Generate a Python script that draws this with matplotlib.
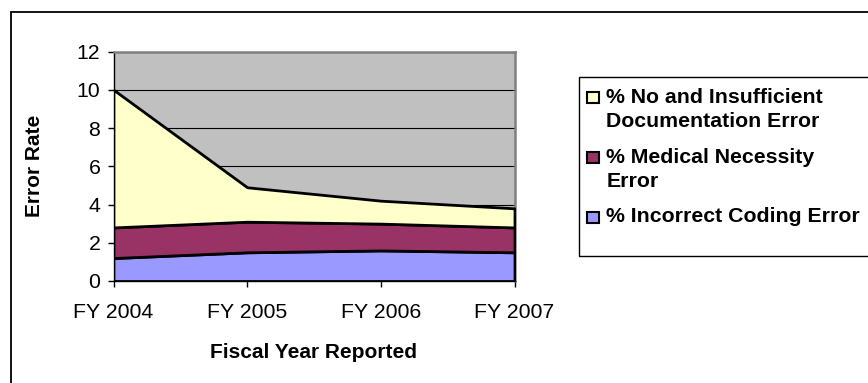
import matplotlib
matplotlib.use('Agg')
import matplotlib.pyplot as plt
import matplotlib.patches as mpatches

plt.rcParams['font.family'] = ['Liberation Sans', 'DejaVu Sans']

# data
years = ['FY 2004', 'FY 2005', 'FY 2006', 'FY 2007']
coding = [1.2, 1.5, 1.6, 1.5]
medical = [1.6, 1.6, 1.4, 1.3]
documentation = [7.2, 1.8, 1.2, 1.0]
series_names = ['% Incorrect Coding Error',
                '% Medical Necessity\nError',
                '% No and Insufficient\nDocumentation Error']
colors = ['#9999FF', '#993366', '#FFFFCC']

W, H = 868, 383
fig = plt.figure(figsize=(W / 100, H / 100), dpi=100)

def fx(px):
    return px / W

def fy(py):
    return 1 - py / H

# outer chart frame
fig.patches.append(mpatches.Rectangle((fx(10.5), fy(400)), fx(900), fy(12) - fy(400),
                                      transform=fig.transFigure, fill=False,
                                      edgecolor='black', linewidth=1.3))

ax = fig.add_axes([fx(113.5), fy(281), fx(514.5) - fx(113.5), fy(51.5) - fy(281)])
ax.set_facecolor('#C0C0C0')
x = range(len(years))
ax.stackplot(x, coding, medical, documentation, colors=colors,
             edgecolor='black', linewidth=2, zorder=3)

ax.set_xlim(0, 3)
ax.set_ylim(0, 12)
ax.set_yticks(range(0, 13, 2))
ax.set_xticks(list(x))
ax.set_xticklabels(years)
ax.yaxis.grid(True, color='black', linewidth=0.8)
ax.set_axisbelow(True)
ax.tick_params(axis='both', labelsize=15.3, length=4.5, width=1, color='black')
ax.tick_params(axis='x', pad=11)
ax.tick_params(axis='y', pad=5)
for s in ['top', 'right']:
    ax.spines[s].set_color('#808080')
    ax.spines[s].set_linewidth(1.8)
for s in ['left', 'bottom']:
    ax.spines[s].set_color('black')
    ax.spines[s].set_linewidth(1)

ax.set_xlabel('Fiscal Year Reported', fontsize=15, fontweight='bold', va='center')
ax.xaxis.set_label_coords(0.5, (281 - 352) / 229.5)
ax.set_ylabel('Error Rate', fontsize=15, fontweight='bold', va='center')
ax.yaxis.set_label_coords((34 - 113.5) / 401, 0.5)

# legend box
fig.patches.append(mpatches.Rectangle((fx(579), fy(256)), fx(400), fy(77) - fy(256),
                                      transform=fig.transFigure, fill=False,
                                      edgecolor='black', linewidth=1))
first_lines = [221.7, 161.7, 101.7]
last_lines = [221.7, 186.7, 126.7]
for name, c, top, base in zip(series_names, colors, first_lines, last_lines):
    fig.patches.append(mpatches.Rectangle((fx(587), fy(top + 1.5)), fx(11.5), fy(top - 10) - fy(top + 1.5),
                                          transform=fig.transFigure, facecolor=c,
                                          edgecolor='black', linewidth=1.5))
    fig.text(fx(606.5), fy(base), name, fontsize=15.3, fontweight='bold',
             va='baseline', ha='left', linespacing=1.3)

fig.savefig('out.png', dpi=100)
